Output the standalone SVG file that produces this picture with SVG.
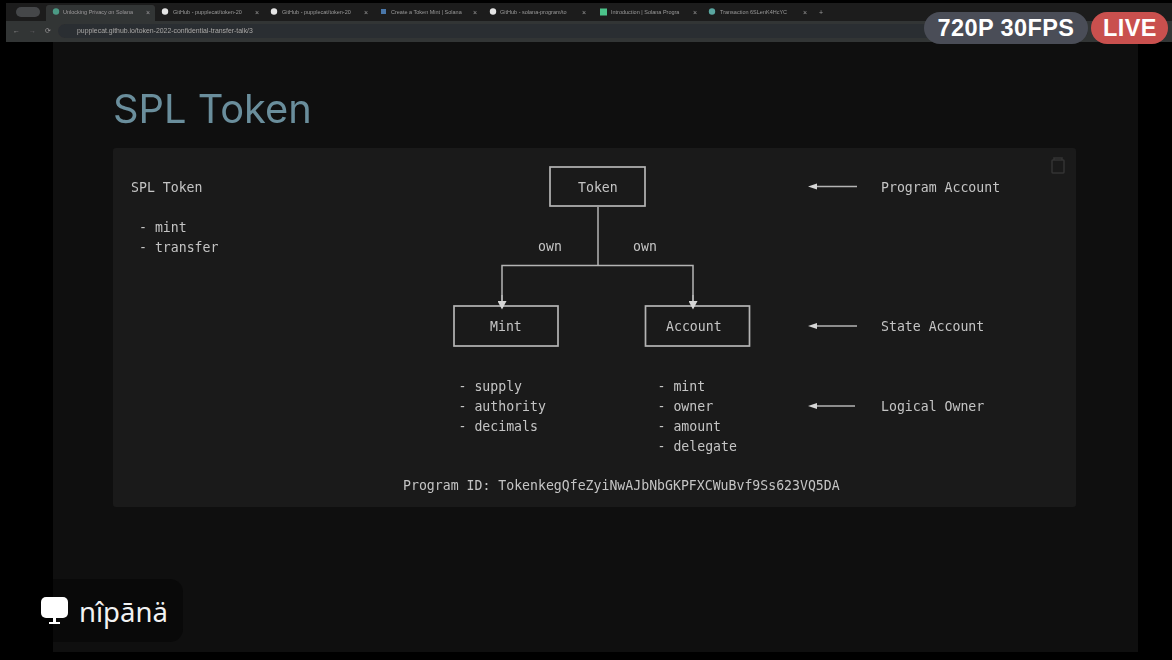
<svg xmlns="http://www.w3.org/2000/svg" width="1172" height="660" viewBox="0 0 1172 660">
<style>
.m{font-family:"DejaVu Sans Mono","Liberation Mono",monospace;font-size:13.2px;fill:#c4c4c4}
.b{fill:none;stroke:#b4b4b4;stroke-width:1.7}
.l{fill:none;stroke:#b4b4b4;stroke-width:1.5}
.ah{fill:#d6d6d6}
.tab{font-family:"Liberation Sans",Arial,sans-serif;font-size:5.5px;fill:#9a9a9a}
.x{font-family:"Liberation Sans",Arial,sans-serif;font-size:7px;fill:#9a9a9a}
.badge{font-family:"Liberation Sans",Arial,sans-serif;font-weight:700;fill:#fff;font-size:23.500px;letter-spacing:.4px}
</style>
<defs>
<filter id="s" x="-10%" y="-10%" width="120%" height="120%"><feGaussianBlur stdDeviation="0.4"/></filter>
<filter id="s2" x="-10%" y="-30%" width="120%" height="160%"><feGaussianBlur stdDeviation="0.5"/></filter>
<marker id="tri" markerWidth="9" markerHeight="9" refX="0" refY="4.500" orient="auto" markerUnits="userSpaceOnUse"><path d="M0 0L8.500 4.500L0 9Z" class="ah"/></marker>
<marker id="tri-s" markerWidth="9" markerHeight="7" refX="0" refY="3.500" orient="auto" markerUnits="userSpaceOnUse"><path d="M0 0.500L9 3.500L0 6.500Z" class="ah"/></marker>
</defs>
<rect width="1172" height="660" fill="#000"/>
<rect id="slide" x="53" y="42" width="1085" height="610" fill="#0f0f0f"/>
<g id="browser" filter="url(#s2)">
<rect x="6" y="3" width="1166" height="19" fill="#1c1c1c"/>
<rect x="6" y="21" width="1166" height="21" fill="#333436"/>
<rect x="16" y="7" width="24" height="10" rx="5" fill="#45474a"/>
<path d="M46 21V8a3 3 0 0 1 3-3H152a3 3 0 0 1 3 3V21Z" fill="#333436"/>
<circle cx="56" cy="11.500" r="3.200" fill="#4b9a85"/>
<text class="tab" x="63" y="13.500">Unlocking Privacy on Solana</text><text class="x" x="146" y="14.500">×</text>
<circle cx="165" cy="11.500" r="3.200" fill="#e4e4e4"/>
<text class="tab" x="173" y="13.500">GitHub - pupplecat/token-20</text><text class="x" x="255" y="14.500">×</text>
<circle cx="274" cy="11.500" r="3.200" fill="#e4e4e4"/>
<text class="tab" x="282" y="13.500">GitHub - pupplecat/token-20</text><text class="x" x="364" y="14.500">×</text>
<rect x="381" y="9" width="5" height="5" fill="#4a76a8"/>
<text class="tab" x="391" y="13.500">Create a Token Mint | Solana</text><text class="x" x="473" y="14.500">×</text>
<circle cx="493" cy="11.500" r="3.200" fill="#e4e4e4"/>
<text class="tab" x="500" y="13.500">GitHub - solana-program/to</text><text class="x" x="582" y="14.500">×</text>
<rect x="600" y="8.500" width="7" height="7" fill="#4cc38a"/>
<text class="tab" x="611" y="13.500">Introduction | Solana Progra</text><text class="x" x="693" y="14.500">×</text>
<circle cx="712" cy="11.500" r="3.200" fill="#5aa6a0"/>
<text class="tab" x="720" y="13.500">Transaction 6SLenK4HcYC</text><text class="x" x="803" y="14.500">×</text>
<text class="x" x="819" y="14.500">+</text>
<text class="x" x="13" y="33">←</text>
<text class="x" x="29" y="33" style="fill:#666">→</text>
<text class="x" x="45" y="33">⟳</text>
<rect x="58" y="24" width="1030" height="14" rx="7" fill="#2c2e30"/>
<text class="tab" x="77" y="33" style="font-size:6.900px;fill:#a8a8a8">pupplecat.github.io/token-2022-confidential-transfer-talk/3</text>
</g>
<text x="113" y="123" filter="url(#s)" style="font-family:Inter,'Liberation Sans',sans-serif;font-size:39.800px;fill:#6a8e9c">SPL Token</text>
<rect id="panel" x="113" y="148" width="963" height="359" rx="3" fill="#1a1a1a"/>
<g filter="url(#s)">
<g id="clipboard" fill="none" stroke="#333" stroke-width="1.500"><rect x="1052" y="160" width="12" height="13" rx="1"/><path d="M1054 160V158H1062V160"/></g>
<g id="left-text">
<text class="m" x="131" y="192">SPL Token</text>
<text class="m" x="139" y="232">- mint</text>
<text class="m" x="139" y="252">- transfer</text>
</g>
<g id="token"><rect class="b" x="550" y="167" width="95" height="39"/><text class="m" x="578" y="192">Token</text></g>
<g id="mint"><rect class="b" x="454" y="306" width="104" height="40"/><text class="m" x="490" y="331">Mint</text></g>
<g id="account"><rect class="b" x="645.500" y="306" width="104" height="40"/><text class="m" x="666" y="331">Account</text></g>
<g id="connectors">
<path class="l" d="M598 207V265"/>
<path class="l" d="M502 301V265.500H693V301" />
<path class="l" d="M502 295V301" marker-end="url(#tri)"/>
<path class="l" d="M693 295V301" marker-end="url(#tri)"/>
<path class="l" d="M857 186.500H817" marker-end="url(#tri-s)"/>
<path class="l" d="M857 326H817" marker-end="url(#tri-s)"/>
<path class="l" d="M855 406H817" marker-end="url(#tri-s)"/>
<text class="m" x="538" y="251">own</text>
<text class="m" x="633" y="251">own</text>
</g>
<g id="mint-fields">
<text class="m" x="458.500" y="391">- supply</text>
<text class="m" x="458.500" y="411">- authority</text>
<text class="m" x="458.500" y="431">- decimals</text>
</g>
<g id="account-fields">
<text class="m" x="657.500" y="391">- mint</text>
<text class="m" x="657.500" y="411">- owner</text>
<text class="m" x="657.500" y="431">- amount</text>
<text class="m" x="657.500" y="451">- delegate</text>
</g>
<g id="labels">
<text class="m" x="881" y="192">Program Account</text>
<text class="m" x="881" y="331">State Account</text>
<text class="m" x="881" y="411">Logical Owner</text>
</g>
<text class="m" x="403" y="490">Program ID: TokenkegQfeZyiNwAJbNbGKPFXCWuBvf9Ss623VQ5DA</text>
</g>
<g id="badges">
<rect x="924" y="12" width="164" height="32" rx="16" fill="#4a4d57"/>
<text class="badge" x="1006" y="36" text-anchor="middle">720P 30FPS</text>
<rect x="1091" y="12" width="77" height="32" rx="16" fill="#c9504e"/>
<text class="badge" x="1130" y="36" text-anchor="middle">LIVE</text>
</g>
<g id="presenter">
<path d="M53 579H170a13 13 0 0 1 13 13V629a13 13 0 0 1-13 13H53Z" fill="#090909"/>
<rect x="41" y="597" width="27" height="21" rx="5" fill="#fff"/>
<path d="M53 618H56V622H60V624H49V622H53Z" fill="#fff"/>
<text x="79" y="622" style="font-family:'Noto Sans','DejaVu Sans',sans-serif;font-size:27.500px;fill:#f2f2f2">nîpānä</text>
</g>
</svg>
